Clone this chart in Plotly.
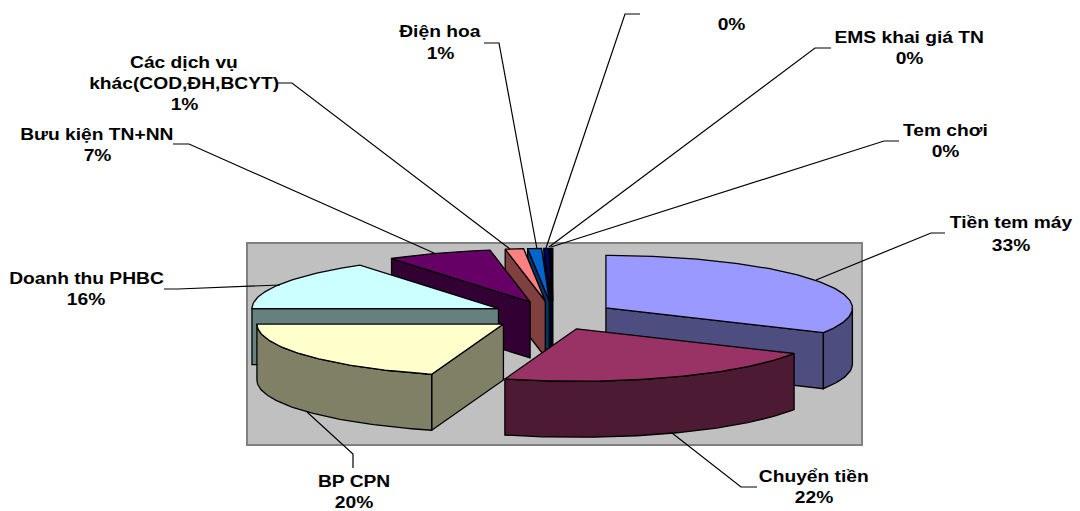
import math
import plotly.graph_objects as go

# Revenue shares by service line, clockwise from twelve o'clock
categories = ["Tiền tem máy", "Chuyển tiền", "BP CPN", "Doanh thu PHBC", "Bưu kiện TN+NN",
              "Các dịch vụ khác", "Điện hoa", "Dịch vụ khác", "EMS khai giá TN", "Tem chơi"]
shares = [32.8, 21.9, 20.3, 15.5, 6.9, 1.2, 0.9, 0.3, 0.1, 0.1]
top_colors = ["#9999FF", "#993366", "#FFFFCC", "#CCFFFF", "#660066",
              "#FF8080", "#0066CC", "#000080", "#000080", "#000040"]
wall_colors = ["#4D4D80", "#4D1A33", "#808066", "#668080", "#330033",
               "#804040", "#003366", "#000040", "#000040", "#000020"]

# Text blocks: (centre x, [(line, centre y), ...])
label_blocks = [
    (1011, [("Tiền tem máy", 222), ("33%", 245)]),
    (814, [("Chuyển tiền", 476), ("22%", 497)]),
    (354, [("BP CPN", 481), ("20%", 502)]),
    (86, [("Doanh thu PHBC", 278), ("16%", 299)]),
    (97, [("Bưu kiện TN+NN", 134), ("7%", 155)]),
    (184, [("Các dịch vụ", 62), ("khác(COD,ĐH,BCYT)", 83), ("1%", 104)]),
    (440, [("Điện hoa", 31), ("1%", 53)]),
    (731, [("0%", 24)]),
    (909, [("EMS khai giá TN", 37), ("0%", 58)]),
    (945, [("Tem chơi", 130), ("0%", 151)]),
]

# Callout polylines from each label to its slice
callouts = [
    [(945, 233), (931, 233), (816, 280)],
    [(757, 487), (741, 487), (672, 433)],
    [(353, 468), (353, 454), (307, 412)],
    [(164, 289), (178, 289), (280, 285)],
    [(173, 144), (189, 144), (434, 253)],
    [(277, 83), (292, 83), (510, 249)],
    [(484, 43), (499, 43), (537, 249)],
    [(640, 14), (625, 14), (546, 248)],
    [(831, 48), (815, 48), (549, 247)],
    [(899, 141), (884, 141), (551, 247)],
]

# Projection of the pie: ellipse radii, extrusion height, explosion offsets
CX, CY = 553.0, 315.4
RX, RY = 246.5, 52.5
DEPTH = 56.0
EXPLODE_X, EXPLODE_Y = 61.7, 14.5


def rim(apex, deg):
    a = math.radians(deg)
    return apex[0] + RX * math.sin(a), apex[1] - RY * math.cos(a)


def arc(apex, start, end):
    steps = max(2, int(abs(end - start)) + 1)
    return [rim(apex, start + (end - start) * i / steps) for i in range(steps + 1)]


def down(points):
    return [(x, y + DEPTH) for x, y in points]


def polygon(points, color):
    xs = [p[0] for p in points] + [points[0][0]]
    ys = [p[1] for p in points] + [points[0][1]]
    return go.Scatter(x=xs, y=ys, mode="lines", fill="toself", fillcolor=color,
                      line=dict(color="#000000", width=1.3), hoverinfo="skip",
                      showlegend=False)


# Slice geometry comes from the cumulative shares
total = sum(shares)
slices = []
cum = 0.0
for i, share in enumerate(shares):
    start = cum / total * 360.0
    cum += share
    end = cum / total * 360.0
    mid = math.radians((start + end) / 2)
    apex = (CX + EXPLODE_X * math.sin(mid), CY - EXPLODE_Y * math.cos(mid))
    slices.append((i, start, end, apex))

fig = go.Figure()

# Painter's order: slices displaced towards the back are drawn first
for i, start, end, apex in sorted(slices, key=lambda s: s[3][1]):
    wall = wall_colors[i]
    if 180 < start < 360:
        edge = [apex, rim(apex, start)]
        fig.add_trace(polygon(edge + down(edge)[::-1], wall))
    if 0 < end < 180:
        edge = [apex, rim(apex, end)]
        fig.add_trace(polygon(edge + down(edge)[::-1], wall))
    lo, hi = max(start, 90.0), min(end, 270.0)
    if lo < hi:
        outer = arc(apex, lo, hi)
        fig.add_trace(polygon(outer + down(outer)[::-1], wall))
    fig.add_trace(polygon([apex] + arc(apex, start, end), top_colors[i]))

for path in callouts:
    fig.add_trace(go.Scatter(x=[p[0] for p in path], y=[p[1] for p in path], mode="lines",
                             line=dict(color="#000000", width=1.2), hoverinfo="skip",
                             showlegend=False))

annotations = []
for cx, lines in label_blocks:
    for text, y in lines:
        annotations.append(dict(x=cx, y=y, text="<b>" + text + "</b>", xref="x", yref="y",
                                showarrow=False, xanchor="center", yanchor="middle",
                                font=dict(family="Liberation Sans", size=16, color="#000000")))

fig.update_layout(
    width=1080, height=511, margin=dict(l=0, r=0, t=0, b=0),
    paper_bgcolor="#FFFFFF", plot_bgcolor="#FFFFFF", showlegend=False,
    xaxis=dict(range=[0, 1080], visible=False, fixedrange=True),
    yaxis=dict(range=[511, 0], visible=False, fixedrange=True),
    annotations=annotations,
    shapes=[dict(type="rect", x0=247, x1=862, y0=243, y1=445, xref="x", yref="y", layer="below",
                 fillcolor="#C0C0C0", line=dict(color="#808080", width=2))],
)

# The chart's lettering is set wide: stretch each label horizontally around its centre
widen = """
document.querySelectorAll('.annotation-text').forEach(function (t) {
  var w = t.getComputedTextLength();
  t.setAttribute('textLength', w * 1.2);
  t.setAttribute('lengthAdjust', 'spacingAndGlyphs');
});
"""
fig.write_html("out.html", post_script=widen, config=dict(displayModeBar=False))
